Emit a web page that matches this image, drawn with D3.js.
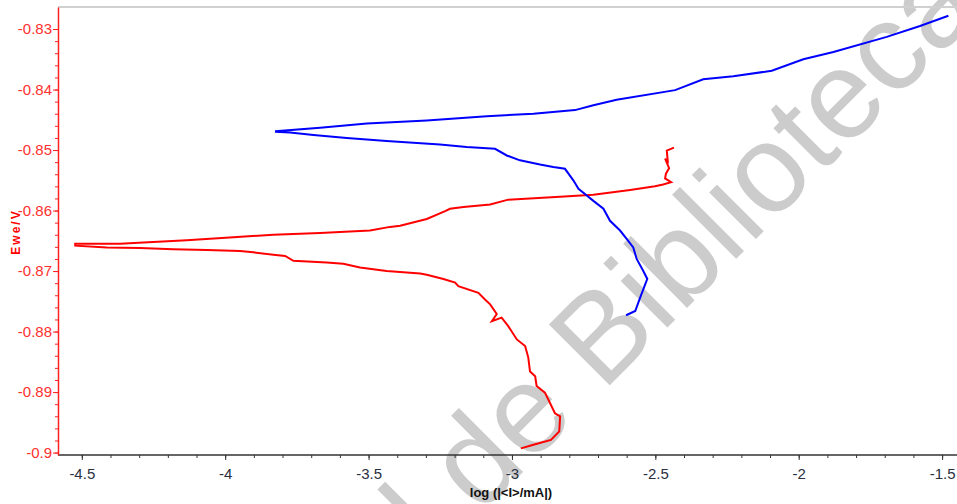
<!DOCTYPE html>
<html>
<head>
<meta charset="utf-8">
<script src="https://cdn.jsdelivr.net/npm/d3@7"></script>
<style>
  body { margin: 0; background: #fff; }
  svg { display: block; }
  .tick-lbl { font-family: "Liberation Sans Narrow", "Arial Narrow", "Liberation Sans", Arial, sans-serif; font-size: 15px; }
</style>
</head>
<body>
<div id="chart"></div>
<script>
// tick values and labels
var xTicks = [-4.5, -4, -3.5, -3, -2.5, -2, -1.5];
var xTickLabels = ["-4.5", "-4", "-3.5", "-3", "-2.5", "-2", "-1.5"];
var yTicks = [-0.83, -0.84, -0.85, -0.86, -0.87, -0.88, -0.89, -0.9];
var yTickLabels = ["-0.83", "-0.84", "-0.85", "-0.86", "-0.87", "-0.88", "-0.89", "-0.9"];

// red curve: log|I| and Ewe (cathodic end -> tip -> anodic end)
var redLogI = [-2.969, -2.925, -2.864, -2.835, -2.832, -2.850, -2.885, -2.914, -2.919, -2.937,
  -2.943, -2.954, -2.983, -3.013, -3.036, -3.070, -3.053, -3.076, -3.094, -3.117,
  -3.187, -3.198, -3.239, -3.297, -3.320, -3.437, -3.530, -3.588, -3.646, -3.762,
  -3.791, -3.832, -3.902, -3.948, -4.064, -4.181, -4.297, -4.413, -4.523,
  -4.523, -4.366, -4.285, -4.134, -3.971, -3.832, -3.669, -3.495, -3.425, -3.390,
  -3.297, -3.233, -3.216, -3.169, -3.076, -3.013, -2.832, -2.716, -2.588, -2.501,
  -2.473, -2.445, -2.466, -2.463, -2.452, -2.466, -2.456, -2.460, -2.435];
var redE = [-0.8993, -0.8987, -0.8979, -0.8965, -0.8940, -0.8935, -0.8901, -0.8890, -0.8874, -0.8866,
  -0.8843, -0.8824, -0.8813, -0.8791, -0.8777, -0.8783, -0.8771, -0.8755, -0.8747, -0.8736,
  -0.8725, -0.8719, -0.8713, -0.8706, -0.8704, -0.8700, -0.8694, -0.8688, -0.8686, -0.8683,
  -0.8675, -0.8673, -0.8669, -0.8667, -0.8665, -0.8664, -0.8662, -0.8661, -0.8658,
  -0.8655, -0.8655, -0.8653, -0.8649, -0.8644, -0.8640, -0.8637, -0.8633, -0.8627, -0.8625,
  -0.8614, -0.8601, -0.8597, -0.8594, -0.8590, -0.8582, -0.8577, -0.8574, -0.8566, -0.8560,
  -0.8557, -0.8553, -0.8547, -0.8539, -0.8530, -0.8514, -0.8522, -0.8501, -0.8496];

// blue curve
var blueLogI = [-2.602, -2.570, -2.553, -2.528, -2.542, -2.565, -2.577, -2.600, -2.623, -2.658,
  -2.681, -2.716, -2.739, -2.768, -2.786, -2.815, -2.856, -2.902, -2.972, -3.018,
  -3.059, -3.158, -3.251, -3.344, -3.437, -3.576, -3.692, -3.774, -3.823,
  -3.823, -3.669, -3.506, -3.297, -3.088, -2.925, -2.780, -2.716, -2.635, -2.431,
  -2.333, -2.228, -2.094, -1.984, -1.879, -1.693, -1.577, -1.478];
var blueE = [-0.8773, -0.8766, -0.8744, -0.8713, -0.8700, -0.8680, -0.8661, -0.8647, -0.8633, -0.8617,
  -0.8597, -0.8584, -0.8575, -0.8564, -0.8550, -0.8531, -0.8528, -0.8524, -0.8517, -0.8509,
  -0.8498, -0.8495, -0.8491, -0.8488, -0.8485, -0.8480, -0.8475, -0.8471, -0.8470,
  -0.8469, -0.8463, -0.8456, -0.8451, -0.8444, -0.8440, -0.8434, -0.8426, -0.8417, -0.8401,
  -0.8383, -0.8378, -0.8369, -0.8350, -0.8338, -0.8313, -0.8295, -0.8278];

// set the dimensions and margins of the graph
var W = 957, H = 504;
var margin = {top: 7, right: 2, bottom: 49, left: 58},
    width = W - margin.left - margin.right,
    height = H - margin.top - margin.bottom;

var svg = d3.select("#chart")
  .append("svg")
    .attr("width", W)
    .attr("height", H);

var x = d3.scaleLinear().domain([-4.583, -1.455]).range([0, width]);
var y = d3.scaleLinear().domain([-0.9004, -0.82636]).range([height, 0]);

// watermark (drawn first, under the chart)
svg.append("text")
  .attr("transform", "translate(1030,-35) rotate(-45)")
  .attr("text-anchor", "end")
  .style("font-family", "Liberation Sans, Arial, sans-serif")
  .style("font-size", "125px")
  .style("fill", "#cccccc")
  .text("Dirección General de Bibliotecas");

var g = svg.append("g")
  .attr("transform", "translate(" + margin.left + "," + margin.top + ")");

// top frame line
g.append("line")
  .attr("x1", 0).attr("x2", width + margin.right)
  .attr("y1", 0).attr("y2", 0)
  .style("stroke", "#d0d0d0").style("stroke-width", 2);

// x axis: minor then major ticks
var xMinor = d3.range(-4.5, -1.45, 0.1).map(function(d) { return Math.round(d * 10) / 10; });
g.append("g")
  .attr("transform", "translate(0," + height + ")")
  .call(d3.axisBottom(x).tickValues(xMinor).tickSize(3).tickFormat(""))
  .call(function(a) { a.select(".domain").remove(); a.selectAll("line").style("stroke", "#333"); });
var xAxis = g.append("g")
  .attr("transform", "translate(0," + height + ")")
  .call(d3.axisBottom(x).tickValues(xTicks).tickSize(5).tickSizeOuter(0)
    .tickFormat(function(d, i) { return xTickLabels[i]; }));
xAxis.select(".domain").style("stroke", "#333").style("stroke-width", 1.5)
  .attr("d", "M0,0H" + (width + margin.right));
xAxis.selectAll("line").style("stroke", "#333");
xAxis.selectAll("text").attr("class", "tick-lbl").attr("y", 24).attr("dy", 0).style("fill", "#2a3040");

// y axis
var yMinor = d3.range(0, 36).map(function(i) { return Math.round((-0.9 + i * 0.002) * 1000) / 1000; });
g.append("g")
  .call(d3.axisLeft(y).tickValues(yMinor).tickSize(3).tickFormat(""))
  .call(function(a) { a.select(".domain").remove(); a.selectAll("line").style("stroke", "#ff2020"); });
var yAxis = g.append("g")
  .call(d3.axisLeft(y).tickValues(yTicks).tickSize(5).tickSizeOuter(0)
    .tickFormat(function(d, i) { return yTickLabels[i]; }));
yAxis.select(".domain").style("stroke", "#ff2020").style("stroke-width", 1.5);
yAxis.selectAll("line").style("stroke", "#ff2020");
yAxis.selectAll("text").attr("class", "tick-lbl").attr("x", -6).style("fill", "#ff3030");

// curves
var line = d3.line()
  .x(function(d) { return x(d[0]); })
  .y(function(d) { return y(d[1]); });

var redPts = redLogI.map(function(v, i) { return [v, redE[i]]; });
var bluePts = blueLogI.map(function(v, i) { return [v, blueE[i]]; });

g.append("path").datum(redPts)
  .attr("d", line)
  .style("fill", "none").style("stroke", "#ff0000").style("stroke-width", 2);
g.append("path").datum(bluePts)
  .attr("d", line)
  .style("fill", "none").style("stroke", "#0000ff").style("stroke-width", 2);

// axis titles
svg.append("text")
  .attr("x", 511).attr("y", 497)
  .attr("text-anchor", "middle")
  .style("font-family", "Liberation Sans, Arial, sans-serif")
  .style("font-weight", "bold").style("font-size", "13px")
  .style("fill", "#111")
  .text("log (|<I>/mA|)");

svg.append("text")
  .attr("transform", "translate(20,232) rotate(-90)")
  .attr("text-anchor", "middle")
  .style("font-family", "Liberation Sans, Arial, sans-serif")
  .style("font-weight", "bold").style("font-size", "12px")
  .style("letter-spacing", "2px")
  .style("fill", "#ff0000")
  .text("Ewe/V");
</script>
</body>
</html>
